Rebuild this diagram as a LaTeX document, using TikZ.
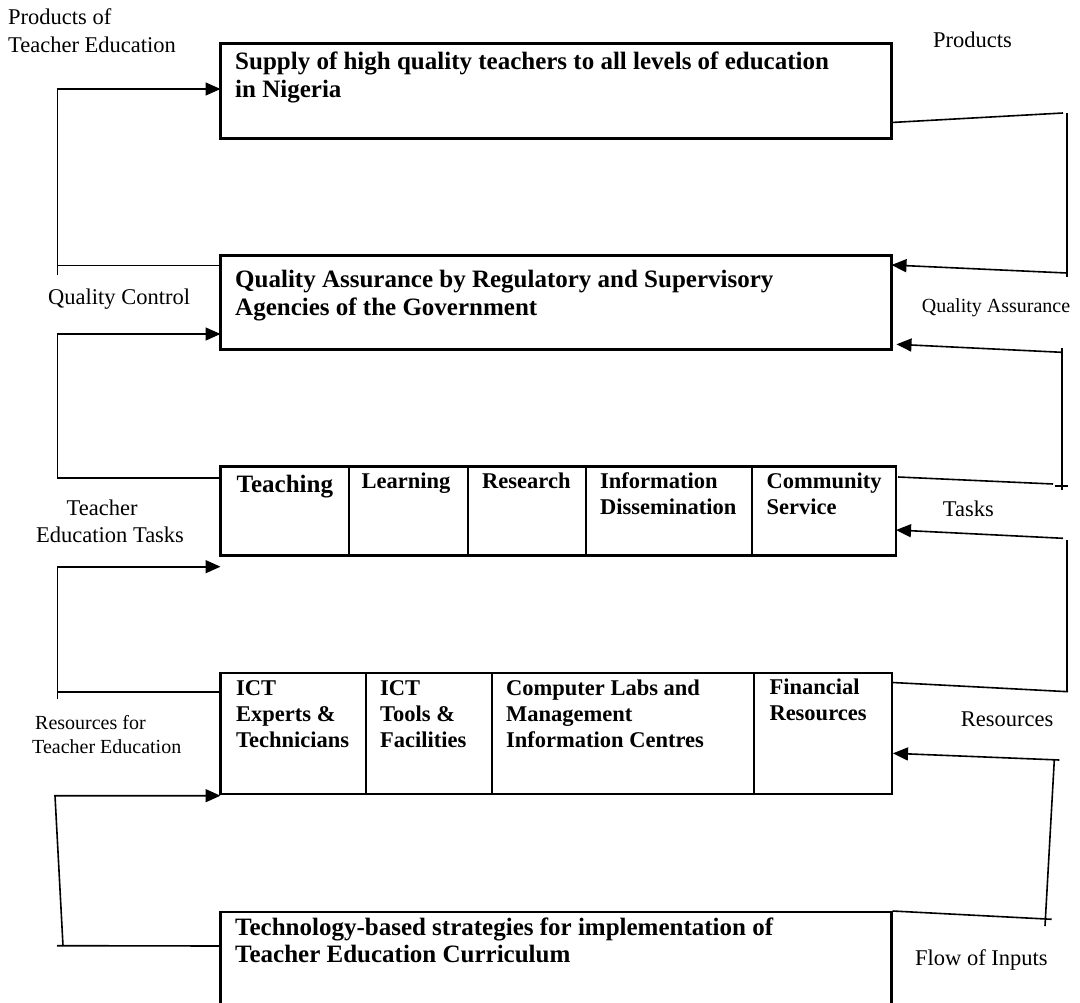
\documentclass[tikz,border=0pt]{standalone}
\usepackage{fontspec}
\setmainfont{Liberation Serif}
\usetikzlibrary{arrows.meta,calc}
\begin{document}
\begin{tikzpicture}[x=1pt,y=-1pt,
  box/.style={draw,line width=2.4pt,inner sep=0pt,outer sep=0pt,anchor=north west},
  conn/.style={line width=1.6pt},
  arr/.style={conn,-{Triangle[length=15pt,width=13pt]}},
  btxt/.style={anchor=base west,inner sep=0pt,align=left,font=\fontsize{25}{27.5}\selectfont\bfseries},
  ctxt/.style={anchor=base west,inner sep=0pt,align=left,font=\fontsize{22.5}{26.5}\selectfont\bfseries},
  lbl/.style={inner sep=0pt,font=\fontsize{22.5}{28}\selectfont},
  slbl/.style={inner sep=0pt,font=\fontsize{20}{24.5}\selectfont}]
\useasboundingbox[fill=white] (0,0) rectangle (1080,1003);

% ---- boxes ----
\node[box,minimum width=671pt,minimum height=95pt] (b1) at (220.5,43.5) {};
\node[box,minimum width=671pt,minimum height=94pt] (b2) at (220.5,255.5) {};

\node[box,minimum width=128.5pt,minimum height=89pt] (t1) at (220.5,466.5) {};
\node[box,minimum width=119pt,minimum height=89pt] (t2) at (349,466.5) {};
\node[box,minimum width=118pt,minimum height=89pt] (t3) at (468,466.5) {};
\node[box,minimum width=166pt,minimum height=89pt] (t4) at (586,466.5) {};
\node[box,minimum width=144pt,minimum height=89pt] (t5) at (752,466.5) {};

\node[box,minimum width=145.5pt,minimum height=121pt] (c1) at (220.5,673) {};
\node[box,minimum width=126pt,minimum height=121pt] (c2) at (366,673) {};
\node[box,minimum width=262pt,minimum height=121pt] (c3) at (492,673) {};
\node[box,minimum width=138pt,minimum height=121pt] (c4) at (754,673) {};

\node[box,minimum width=671pt,minimum height=100pt] (b5) at (220.5,912) {};

% ---- box texts (base anchor = baseline of the last line) ----
\node[btxt] (b1t) at ($(b1.north west)+(14.5,54)$) {Supply of high quality teachers to all levels of education\\in Nigeria};
\node[btxt] (b2t) at ($(b2.north west)+(14.5,60)$) {Quality Assurance by Regulatory and Supervisory\\Agencies of the Government};
\node[btxt] (t1t) at ($(t1.north west)+(16,26.2)$) {Teaching};
\node[ctxt] (t2t) at ($(t2.north west)+(12.5,21.5)$) {Learning};
\node[ctxt] (t3t) at ($(t3.north west)+(14,21.5)$) {Research};
\node[ctxt] (t4t) at ($(t4.north west)+(14,48)$) {Information\\Dissemination};
\node[ctxt] (t5t) at ($(t5.north west)+(14.5,48)$) {Community\\Service};
\node[ctxt,font=\fontsize{22.5}{26}\selectfont\bfseries] (c1t) at ($(c1.north west)+(15.5,74.7)$) {ICT\\Experts \&\\Technicians};
\node[ctxt,font=\fontsize{22.5}{26}\selectfont\bfseries] (c2t) at ($(c2.north west)+(14,74.7)$) {ICT\\Tools \&\\Facilities};
\node[ctxt,font=\fontsize{22.5}{26}\selectfont\bfseries] (c3t) at ($(c3.north west)+(14,74.7)$) {Computer Labs and\\Management\\Information Centres};
\node[ctxt,font=\fontsize{22.5}{26.5}\selectfont\bfseries] (c4t) at ($(c4.north west)+(15.3,47.5)$) {Financial\\Resources};
\node[btxt] (b5t) at ($(b5.north west)+(14.5,50.5)$) {Technology-based strategies for implementation of\\Teacher Education Curriculum};

% ---- labels ----
\node[lbl,anchor=base west,align=left] (lp) at (8,53) {Products of\\Teacher Education};
\node[lbl,anchor=base west] (lpr) at (933,48) {Products};
\node[lbl,anchor=base west] (lqc) at (48,305) {Quality Control};
\node[slbl,anchor=base west] (lqa) at (921.7,313) {Quality Assurance};
\node[lbl,anchor=base west,align=left,font=\fontsize{22.5}{27}\selectfont] (ltt) at (36,542) {\hspace*{30.5pt}Teacher\\Education Tasks};
\node[lbl,anchor=base west] (lta) at (942.7,516.7) {Tasks};
\node[slbl,anchor=base west,align=left] (lrt) at (32,753.5) {\hspace*{3pt}Resources for\\Teacher Education};
\node[lbl,anchor=base west] (lre) at (960.7,726.7) {Resources};
\node[lbl,anchor=base west] (lfi) at (915,965) {Flow of Inputs};

% ---- left connectors ----
\coordinate (l1t) at (57.5,89);
\coordinate (l1b) at (57.5,275);
\coordinate (q1) at ($(b2.north west)+(0,10)$);
\draw[arr] (l1b) -- (l1t) -- (l1t -| b1.west);
\draw[conn] (q1) -- (q1 -| l1t);

\coordinate (l2t) at (57.5,334);
\coordinate (q2) at ($(t1.north west)+(0,11.5)$);
\draw[arr] (q2) -| (l2t) -- (l2t -| b2.west);

\coordinate (l3t) at (57.5,566.7);
\coordinate (l3b) at (57.5,699);
\coordinate (q3) at ($(c1.north west)+(0,19)$);
\draw[arr] (l3b) -- (l3t) -- (l3t -| t1.west);
\draw[conn] (q3) -- (q3 -| l3t);

\coordinate (l4t) at (55,795.7);
\coordinate (l4b) at (63,945.7);
\coordinate (l4e) at (57,945.7);
\coordinate (q4) at ($(b5.north west)+(0,34)$);
\draw[arr] (l4b) -- (l4t) -- (l4t -| c1.west);
\draw[conn] (q4) -- (l4e);

% ---- right connectors ----
\coordinate (r1a) at (1063,113);
\coordinate (r1t) at (1066.7,113);
\coordinate (r1b) at (1066.7,277);
\coordinate (r1c) at (1066.7,273);
\draw[conn] ($(b1.north east)+(0,79)$) -- (r1a);
\draw[conn] (r1t) -- (r1b);
\draw[arr] (r1c) -- ($(b2.north east)+(0,9.5)$);

\coordinate (r2a) at (1061.7,352.3);
\coordinate (r2t) at (1061.7,348);
\coordinate (r2b) at (1061.7,490);
\coordinate (r2c) at (1053,484);
\coordinate (r2l) at (1055,486);
\coordinate (r2r) at (1068,486);
\draw[arr] (r2a) -- ($(b2.south east)+(5,-5.2)$);
\draw[conn] (r2t) -- (r2b);
\draw[conn] ($(t5.north east)+(2,10.5)$) -- (r2c);
\draw[conn] (r2l) -- (r2r);

\coordinate (r3a) at (1063,538.3);
\coordinate (r3t) at (1066.7,540);
\coordinate (r3b) at (1066.7,691.7);
\coordinate (r3e) at (1068,691.7);
\draw[arr] (r3a) -- ($(t5.north east)+(0,63.5)$);
\draw[conn] (r3t) -- (r3b);
\draw[conn] ($(c4.north east)+(0.5,9.5)$) -- (r3e);

\coordinate (r4a) at (1059.3,760);
\coordinate (r4t) at (1054.3,760);
\coordinate (r4b) at (1045,926);
\coordinate (r4e) at (1051.7,919.3);
\draw[arr] (r4a) -- ($(c4.north east)+(1,80.3)$);
\draw[conn] (r4t) -- (r4b);
\draw[conn] ($(b5.north east)+(1,-1)$) -- (r4e);
\end{tikzpicture}
\end{document}
